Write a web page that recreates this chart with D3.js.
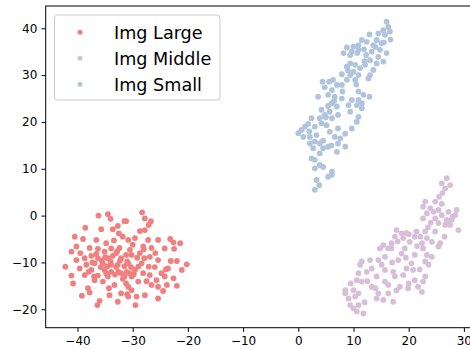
<!DOCTYPE html>
<html>
<head>
<meta charset="utf-8">
<script src="https://cdn.jsdelivr.net/npm/d3@7"></script>
<style>
  html, body { margin: 0; padding: 0; background: #fff; }
  svg { display: block; font-family: "DejaVu Sans", sans-serif; }
</style>
</head>
<body>
<div id="chart"></div>
<script>
// t-SNE coordinates
const seriesNames = ["Img Large", "Img Middle", "Img Small"];
const seriesColors = ["#f08080", "#d8bfd8", "#b0c4de"];
const xTicks = [-40, -30, -20, -10, 0, 10, 20, 30];
const yTicks = [-20, -10, 0, 10, 20, 30, 40];

const imgLarge = [
  [-36.2, 0.0], [-34.5, 0.3], [-34.0, -0.7], [-31.5, -1.2], [-32.7, -2.2], [-33.6, -2.9],
  [-35.7, -2.9], [-38.6, -2.6], [-31.8, -4.5], [-40.5, -4.5], [-39.0, -5.0], [-36.6, -5.2],
  [-34.8, -5.9], [-40.2, -6.6], [-41.1, -7.7], [-37.8, -6.9], [-36.3, -7.1], [-33.9, -7.0],
  [-32.4, -6.9], [-35.1, -7.7], [-33.0, -8.0], [-37.5, -8.6], [-38.7, -9.1], [-40.2, -9.5],
  [-36.3, -9.1], [-34.5, -9.1], [-32.1, -9.1], [-31.2, -8.4], [-38.4, -10.5], [-36.9, -10.2],
  [-35.4, -10.2], [-33.9, -10.5], [-32.7, -10.5], [-42.2, -10.9], [-39.6, -11.3], [-37.5, -11.6],
  [-35.1, -11.6], [-33.9, -12.0], [-32.1, -12.3], [-38.7, -12.7], [-41.1, -12.8], [-36.3, -12.8],
  [-34.5, -13.0], [-31.5, -13.0], [-36.9, -13.8], [-40.8, -14.5], [-35.4, -14.1], [-33.3, -14.8],
  [-31.2, -14.5], [-38.1, -15.5], [-37.8, -16.4], [-34.2, -17.0], [-32.1, -16.6], [-39.2, -17.1],
  [-32.7, -18.4], [-36.0, -18.2], [-36.4, -19.1],
  [-28.3, 0.7], [-27.8, -0.6], [-26.7, -1.2], [-27.1, -2.0], [-31.2, -1.2], [-28.7, -3.3],
  [-27.8, -3.1], [-29.6, -4.8], [-30.8, -5.2], [-27.2, -5.2], [-25.4, -5.2], [-23.2, -5.0],
  [-22.6, -5.7], [-21.4, -5.9], [-28.1, -6.6], [-26.6, -6.9], [-24.2, -7.0], [-22.5, -7.1],
  [-30.5, -7.3], [-30.2, -8.4], [-28.7, -8.0], [-26.9, -8.8], [-25.4, -9.5], [-23.1, -9.7],
  [-22.0, -9.7], [-20.2, -10.4], [-28.4, -10.2], [-30.8, -10.2], [-27.1, -10.9], [-23.6, -11.3],
  [-21.1, -11.6], [-29.6, -11.6], [-31.1, -12.0], [-28.1, -12.3], [-24.8, -12.3], [-26.9, -12.7],
  [-24.2, -13.0], [-30.2, -13.0], [-22.6, -13.4], [-25.7, -13.8], [-29.0, -14.1], [-26.6, -14.8],
  [-23.8, -14.8], [-22.0, -15.0], [-30.8, -15.2], [-25.4, -15.2], [-30.2, -15.9], [-24.5, -16.1],
  [-27.8, -17.0], [-29.3, -17.3], [-30.8, -17.3], [-25.4, -17.7], [-29.5, -19.1],
  [-34.0, -9.8], [-33.0, -11.0], [-32.3, -9.6], [-31.5, -10.8], [-30.3, -11.0], [-35.8, -11.0],
  [-34.8, -12.3], [-33.2, -12.6], [-31.8, -13.5], [-29.8, -12.5], [-36.6, -8.2], [-35.0, -8.9],
  [-32.8, -7.6], [-29.2, -9.0], [-28.0, -7.2], [-30.0, -6.2], [-33.4, -5.3], [-38.0, -12.0],
  [-37.0, -13.0], [-26.0, -11.0], [-27.5, -14.0], [-24.0, -11.5], [-39.5, -8.0], [-34.3, -15.5],
  [-31.0, -16.8], [-32.5, -3.8], [-35.6, -9.6], [-33.6, -8.6], [-31.0, -9.8], [-29.0, -10.9],
  [-34.6, -10.8], [-32.6, -12.0], [-30.6, -12.3], [-37.3, -10.0], [-27.9, -9.1], [-25.9, -8.0]
];

const imgMiddle = [
  [26.9, 8.0], [26.0, 6.9], [27.5, 6.5], [26.6, 5.8], [26.1, 4.8], [23.0, 3.0], [24.8, 3.0],
  [22.6, 1.9], [23.9, 1.6], [25.4, 1.2], [23.3, 0.5], [24.5, 0.8], [27.2, 0.8], [28.7, 1.2],
  [26.0, 0.1], [28.4, 0.1], [22.6, -0.6], [24.8, -0.6], [26.9, -0.9], [27.8, -0.9], [25.4, -1.6],
  [27.5, -2.0], [26.6, -2.0], [29.0, -3.1], [24.8, -3.4], [17.8, -3.1], [18.7, -3.8], [19.6, -3.7],
  [21.4, -3.4], [23.0, -3.4], [17.5, -4.5], [19.0, -4.8], [21.1, -4.5], [22.1, -4.5], [23.3, -4.8],
  [24.2, -5.6], [25.7, -5.9], [20.2, -5.6], [16.9, -5.9], [22.4, -5.9], [15.4, -6.3], [16.3, -7.0],
  [14.8, -7.0], [19.3, -7.0], [22.6, -7.0],
  [16.9, -7.0], [25.4, -6.6], [18.7, -8.1], [21.1, -8.4], [23.3, -8.4], [24.2, -8.8], [15.7, -8.8],
  [14.5, -9.5], [18.1, -9.5], [11.5, -9.8], [11.2, -10.5], [15.1, -10.5], [20.5, -10.2], [23.0, -9.8],
  [23.6, -10.5], [13.3, -11.3], [12.4, -12.0], [15.7, -11.6], [19.6, -11.3], [20.8, -11.6],
  [17.2, -12.0], [10.9, -12.3], [14.2, -13.0], [17.5, -13.0], [19.0, -12.7], [23.0, -13.0],
  [10.6, -13.8], [11.5, -14.1], [15.7, -14.1], [21.1, -13.8], [22.6, -14.1], [16.3, -14.8],
  [13.3, -15.2], [18.4, -15.2], [19.9, -15.5], [21.7, -15.2], [10.0, -15.9], [8.5, -16.6],
  [10.9, -16.6], [14.5, -16.6], [16.3, -16.6], [22.4, -16.3], [9.1, -17.7], [10.3, -17.3],
  [14.2, -17.7], [15.4, -18.0], [17.2, -18.4], [9.4, -19.1], [10.9, -19.1], [10.0, -19.8],
  [11.8, -20.9], [10.6, -20.5], [8.5, -15.9],
  [24.0, -1.5], [27.0, -1.5], [26.0, 2.5], [23.5, -2.5], [20.0, -4.0], [18.0, -5.5], [21.5, -6.5],
  [19.5, -9.0], [17.0, -10.0], [13.0, -9.5], [12.5, -14.0], [14.0, -15.5], [9.5, -14.5],
  [12.0, -18.5], [17.8, -16.0], [22.0, -11.5], [26.5, -4.5], [28.0, -0.2], [25.5, 4.0], [20.0, -14.5]
];

const imgSmall = [
  [16.0, 41.4], [16.3, 40.3], [15.4, 39.6], [16.6, 39.3], [15.7, 38.6], [16.7, 37.6], [14.5, 38.9],
  [12.9, 38.7], [14.2, 37.5], [15.1, 36.8], [13.6, 36.4], [12.4, 37.1], [11.5, 37.5], [10.9, 36.4],
  [10.0, 36.1], [8.8, 35.9], [9.7, 35.0], [10.9, 35.4], [11.9, 35.5], [13.3, 35.0], [14.8, 35.4],
  [16.0, 34.7], [8.2, 34.7], [9.4, 34.3], [10.7, 34.7], [12.3, 34.3], [14.5, 33.9], [15.4, 32.9],
  [13.0, 33.2], [14.2, 32.5], [9.4, 32.5], [10.3, 32.2], [8.8, 31.8], [11.2, 31.5], [12.1, 32.2],
  [13.6, 31.1], [10.0, 30.7], [9.4, 30.0], [10.9, 30.0], [12.7, 29.3], [7.9, 30.2], [6.3, 29.0],
  [5.6, 28.6], [4.4, 28.6], [7.0, 27.9], [8.8, 29.0], [10.3, 29.0], [4.8, 27.4], [6.1, 26.8],
  [7.9, 27.9], [10.9, 26.5], [11.8, 25.8], [12.9, 25.4], [3.6, 25.4], [5.4, 25.8], [6.6, 25.4],
  [7.9, 25.0], [9.7, 24.7], [10.9, 24.7], [6.1, 24.0], [5.4, 23.4], [7.0, 23.3], [9.1, 23.6],
  [10.6, 23.6], [11.5, 22.9], [4.2, 22.6], [5.7, 22.2], [7.2, 21.5], [9.4, 22.2], [10.9, 21.1],
  [2.4, 20.8], [3.9, 20.8], [4.8, 21.5], [6.1, 20.8], [4.2, 19.7], [5.1, 19.3], [10.6, 20.0],
  [9.7, 18.6], [1.2, 19.0], [1.8, 19.6], [0.0, 17.6], [0.6, 18.3], [0.9, 16.8], [2.1, 16.8],
  [3.3, 17.2], [5.7, 17.9], [7.2, 18.6], [6.6, 16.8], [7.6, 16.5], [2.1, 15.4], [3.0, 15.8],
  [3.9, 15.4], [5.4, 14.7], [7.2, 15.4], [8.5, 14.7], [2.7, 14.4], [3.9, 13.3], [4.5, 14.4],
  [7.0, 13.6], [2.4, 12.2], [3.0, 11.9], [3.9, 10.8], [3.0, 10.1], [4.5, 10.4], [6.1, 9.4],
  [5.4, 8.3], [6.1, 8.7], [3.3, 7.6], [3.8, 6.5], [3.0, 5.5],
  [14.0, 36.0], [12.0, 33.0], [10.5, 28.0], [8.0, 26.5], [6.5, 24.5], [5.0, 21.0], [3.0, 19.0],
  [2.0, 18.0], [4.5, 16.0], [6.0, 15.0], [8.5, 17.5], [15.5, 37.0], [13.0, 30.0], [9.0, 31.0],
  [11.5, 24.0]
];

const seriesData = [imgLarge, imgMiddle, imgSmall];

const width = 470, height = 349;
const svg = d3.select("#chart").append("svg")
  .attr("width", width)
  .attr("height", height);

// plot box; right side runs past the picture edge like the original crop
const plotLeft = 45.7, plotRight = 477.4, plotTop = 6, plotBottom = 327.7;
const x = d3.scaleLinear().domain([-45.76, 32.45]).range([plotLeft, plotRight]);
const y = d3.scaleLinear().domain([-23.94, 44.76]).range([plotBottom, plotTop]);

// points
seriesData.forEach((pts, i) => {
  svg.append("g")
    .selectAll("circle")
    .data(pts)
    .join("circle")
    .attr("cx", d => x(d[0]))
    .attr("cy", d => y(d[1]))
    .attr("r", 2.9)
    .attr("fill", seriesColors[i]);
});

// axes
const xAxis = d3.axisBottom(x).tickValues(xTicks).tickSize(4.2).tickPadding(4.2);
const yAxis = d3.axisLeft(y).tickValues(yTicks).tickSize(4.2).tickPadding(4.2);

const gx = svg.append("g")
  .attr("transform", `translate(0,${plotBottom})`)
  .call(xAxis);
const gy = svg.append("g")
  .attr("transform", `translate(${plotLeft},0)`)
  .call(yAxis);

[gx, gy].forEach(g => {
  g.select(".domain").remove();
  g.selectAll(".tick line").attr("stroke", "#000").attr("stroke-width", 1);
  g.selectAll(".tick text")
    .attr("fill", "#000")
    .style("font-size", "12px")
    .style("font-family", "DejaVu Sans, sans-serif");
});

// spines
svg.append("rect")
  .attr("x", plotLeft)
  .attr("y", plotTop)
  .attr("width", plotRight - plotLeft)
  .attr("height", plotBottom - plotTop)
  .attr("fill", "none")
  .attr("stroke", "#000")
  .attr("stroke-width", 1);

// legend
const legend = svg.append("g");
legend.append("rect")
  .attr("x", 54.5)
  .attr("y", 15)
  .attr("width", 165.5)
  .attr("height", 85)
  .attr("rx", 3)
  .attr("fill", "#fff")
  .attr("fill-opacity", 0.8)
  .attr("stroke", "#cccccc")
  .attr("stroke-width", 1);

seriesNames.forEach((name, i) => {
  const cy = 32.3 + i * 26;
  legend.append("circle")
    .attr("cx", 80)
    .attr("cy", cy)
    .attr("r", 2.5)
    .attr("fill", seriesColors[i]);
  legend.append("text")
    .attr("x", 114)
    .attr("y", cy)
    .attr("dy", "0.36em")
    .style("font-size", "17.6px")
    .attr("fill", "#000")
    .text(name);
});
</script>
</body>
</html>
